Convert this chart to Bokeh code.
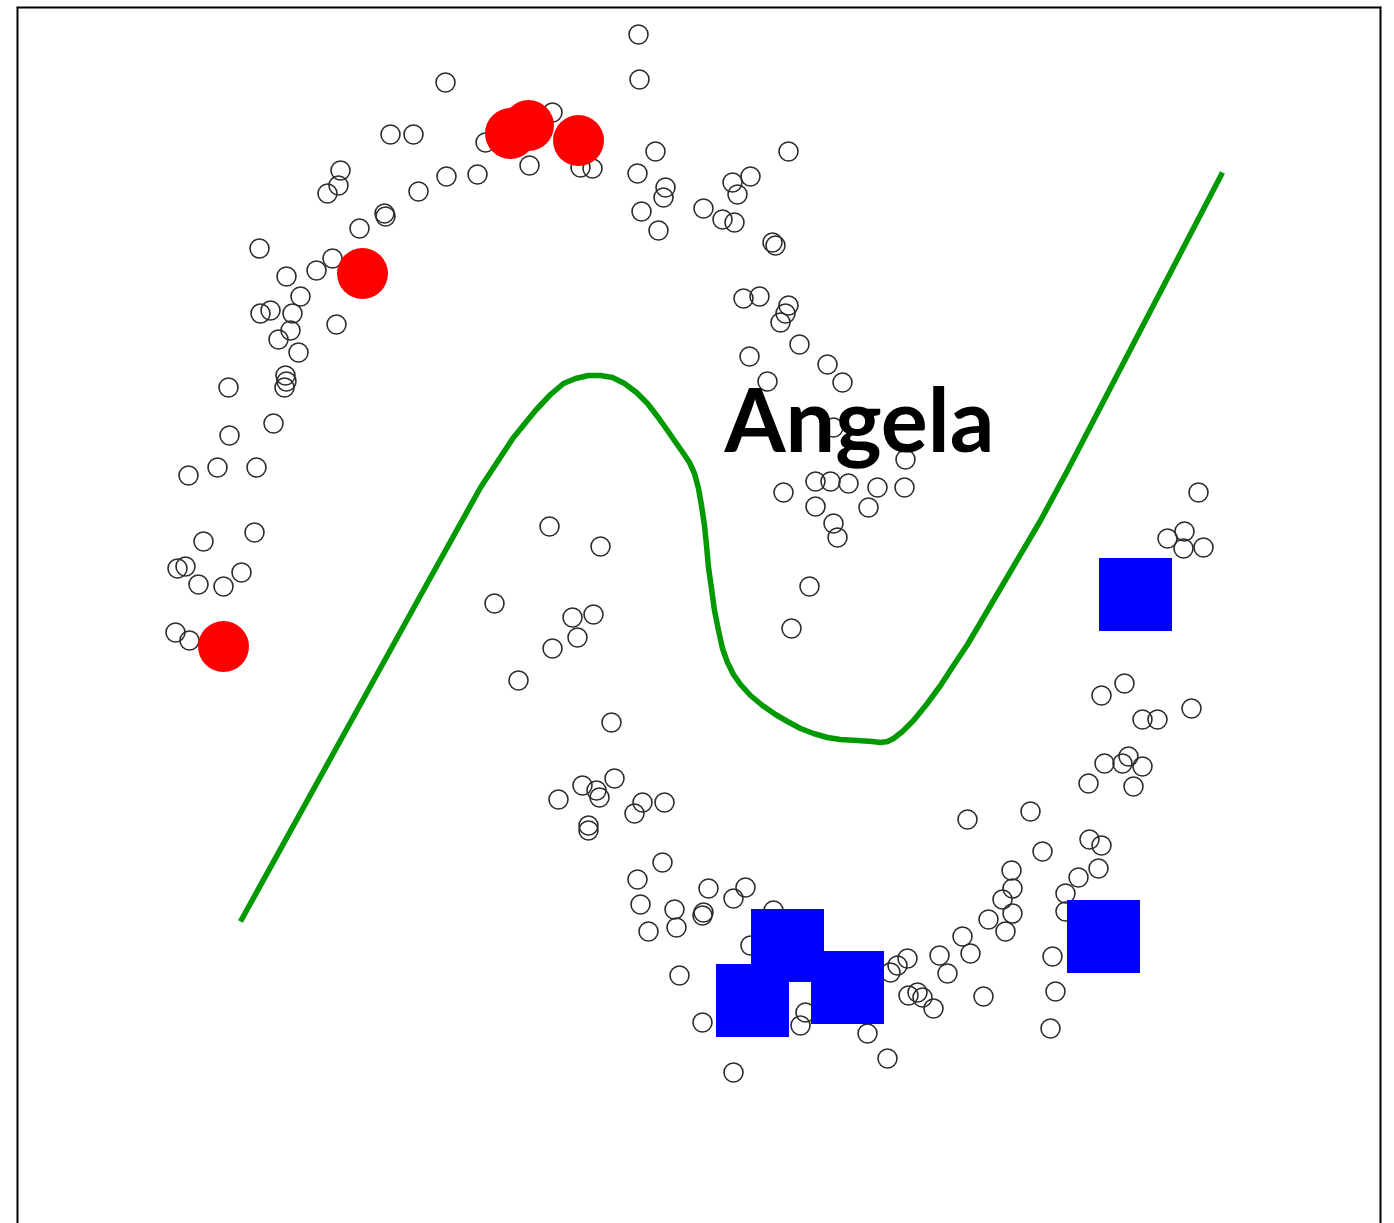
from bokeh.plotting import figure
from bokeh.models import Range1d, Span
from bokeh.core.properties import value
from bokeh.embed import file_html
from bokeh.resources import INLINE

# Unlabelled samples (x, y) in plot units; y grows downward
pts_x = [638, 639, 445, 390, 413, 340, 338, 327, 446, 477, 418, 384, 385, 359,
         259, 332, 316, 286, 300, 260, 270, 292, 336, 290, 278, 298,
         285, 286, 284, 228, 273, 229, 188, 217, 256,
         254, 203, 177, 185, 198, 223, 241, 175, 189,
         552, 485, 529, 580, 592, 655, 637, 665, 663, 641, 658, 703,
         732, 750, 737, 722, 734, 788, 772, 775,
         743, 759, 788, 785, 780, 799, 749, 827, 842, 767,
         833, 905, 783, 815, 830, 848, 877, 904, 815, 868, 833, 837,
         809, 791,
         549, 600, 494, 572, 593, 577, 552, 518, 611,
         558, 582, 596, 599, 614, 642, 634, 664, 588, 588,
         662, 637, 708, 733, 745, 640, 674, 703, 702, 648, 676, 679, 702, 733,
         773, 750, 800, 805, 867, 887,
         907, 897, 890, 908, 917, 922, 933,
         967, 1030, 1042, 1089, 1101, 1098, 1078, 1065, 1065, 1011, 1012, 1002,
         1012, 988, 1005, 962, 970, 939, 947, 983, 1052, 1055, 1050,
         1088, 1133, 1198, 1167, 1184, 1183, 1203, 1101, 1124, 1142, 1157, 1191,
         1128, 1104, 1122, 1142]
pts_y = [34, 79, 82, 134, 134, 170, 185, 193, 176, 174, 191, 213, 216, 228,
         248, 258, 270, 276, 296, 313, 310, 313, 324, 330, 339, 352,
         375, 381, 387, 387, 423, 435, 475, 467, 467,
         532, 541, 568, 566, 584, 586, 572, 632, 640,
         112, 142, 165, 167, 168, 151, 173, 187, 197, 211, 230, 208,
         182, 176, 194, 219, 222, 151, 242, 245,
         298, 296, 305, 313, 322, 344, 356, 364, 382, 381,
         427, 459, 492, 481, 481, 483, 487, 487, 506, 507, 523, 537,
         586, 628,
         526, 546, 603, 617, 614, 637, 648, 680, 722,
         799, 785, 790, 797, 778, 802, 813, 802, 825, 830,
         862, 879, 888, 898, 887, 904, 909, 912, 915, 931, 927, 975, 1022, 1072,
         910, 945, 1025, 1012, 1033, 1058,
         958, 965, 972, 995, 992, 997, 1008,
         819, 811, 851, 839, 845, 868, 877, 893, 911, 870, 888, 899,
         913, 919, 931, 936, 953, 955, 973, 996, 956, 991, 1028,
         783, 786, 492, 538, 531, 548, 547, 695, 683, 719, 719, 708,
         756, 763, 763, 766]

# Labelled samples: class A (red) and class B (blue)
red_x = [510, 528, 578, 362, 223]
red_y = [133, 125, 140, 273, 646]
blue_x = [752, 787, 847, 1103, 1135]
blue_y = [1000, 945, 987, 936, 594]

# Decision boundary
boundary_x = [240, 330, 420, 480, 513, 535, 550, 563, 575, 588, 600, 612, 624,
              636, 647, 657, 667, 676, 683, 689, 694, 698, 701, 704, 706, 708,
              711, 714, 718, 722, 727, 733, 740, 750, 762, 775, 787, 800, 813,
              827, 840, 857, 872, 880, 887, 893, 902, 913, 926, 940, 953, 967,
              980, 1040, 1067, 1222]
boundary_y = [921, 758, 595, 487, 437, 410, 394, 383, 378, 375, 375, 377, 383,
              392, 403, 416, 430, 443, 453, 462, 473, 488, 505, 525, 545, 567,
              588, 610, 630, 648, 662, 674, 684, 695, 705, 714, 721, 728, 733,
              737, 739, 740, 741, 742, 741, 738, 731, 720, 704, 685, 665, 644,
              622, 520, 470, 172]

label_text = ["Angela"]
label_x = [724]
label_y = [417]

p = figure(width=1394, height=1223, output_backend="svg", toolbar_location=None,
           x_range=Range1d(16, 1381), y_range=Range1d(1223, 6),
           min_border_left=16, min_border_right=13, min_border_top=6,
           min_border_bottom=0)
p.axis.visible = False
p.grid.visible = False
p.outline_line_color = None
p.background_fill_color = "white"
p.border_fill_color = "white"

# Frame edges: left, right and top only
for loc, dim in [(16, "height"), (1381, "height"), (6, "width")]:
    p.add_layout(Span(location=loc, dimension=dim, line_color="black",
                      line_width=4))

p.scatter(pts_x, pts_y, size=19, marker="circle", fill_color=None,
          line_color="#2b2b2b", line_width=1.6)
p.line(boundary_x, boundary_y, line_color="#009900", line_width=5.5,
       line_join="round")
p.scatter(red_x, red_y, size=51, marker="circle", fill_color="#ff0000",
          line_color=None)
p.scatter(blue_x, blue_y, size=73, marker="square", fill_color="#0000ff",
          line_color=None)
p.text(label_x, label_y, text=label_text, text_font=value("Lato"),
       text_font_style="bold", text_font_size="88px", text_color="black",
       text_align="left", text_baseline="alphabetic")

open("out.html", "w").write(file_html(p, INLINE))
